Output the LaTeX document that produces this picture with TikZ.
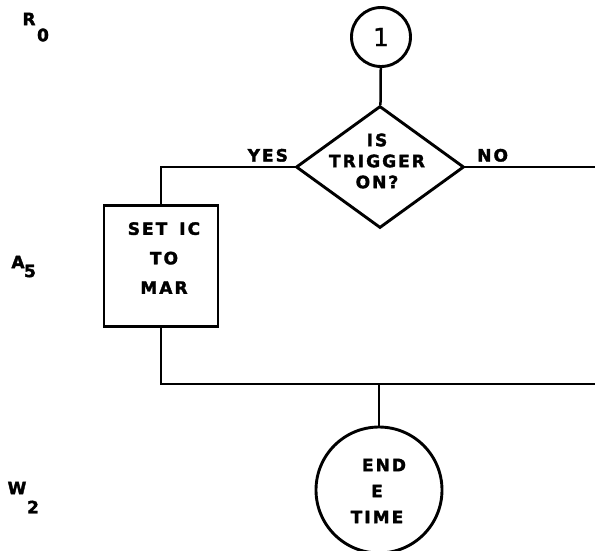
\documentclass[tikz,border=0pt]{standalone}
\usepackage{fontspec}
\newfontfamily\flowfont[LetterSpace=12,BoldFeatures={FakeBold=2}]{DejaVu Sans}
\newfontfamily\digitfont[FakeBold=1]{DejaVu Sans}
\newcommand{\flowtxt}[1]{\flowfont\bfseries\fontsize{17}{#1}\selectfont}
\usepackage{tikz}
\usetikzlibrary{shapes.geometric}
\usetikzlibrary{positioning}

\begin{document}
\begin{tikzpicture}[x=1pt,y=-1pt,line width=2.5pt,
    shp/.style={draw,line width=2.9pt,inner sep=0pt},
    txt/.style={font=\flowtxt{#1},align=center,inner sep=0pt},
    reg/.style={font=\flowtxt{17},inner sep=0pt}]%
    \useasboundingbox (0,0) rectangle (595,550);
    \begin{scope}[every node/.append style={shp}]%
    \node[circle,minimum size=59pt,font=\digitfont\fontsize{25}{25}\selectfont] (one) at (381,37) {1}; %%
    \node[diamond,minimum width=168pt,minimum height=122pt] (trig) at (380,167) {}; %%
    \node[rectangle,minimum width=114pt,minimum height=121pt] (setic) at (161,266) {}; %%
    \node[circle,minimum size=126pt] (endtime) at (379,490) {}; %%
    \end{scope}
    \node[txt=21] (trigtxt) at (377,161) {IS\\TRIGGER\\ON?}; %%
    \node[txt=29.5] (setictxt) at (164,258) {SET\hspace{12pt}IC\\TO\\MAR}; %%
    \node[txt=26] (endtxt) at (377,491) {\hspace*{14pt}END\\E\\TIME}; %%
    % register marks down the left side
    \node[reg] (regr) at (29,19) {R}; \node[reg] (regrsub) at (43,35) {0}; %%
    \node[reg] (rega) at (18,262) {A}; \node[reg] (regasub) at (30,271) {5}; %%
    \node[reg] (regw) at (17,488) {W}; \node[reg] (regwsub) at (33,507) {2}; %%
    \coordinate (noend) at (595,167); %%
    \coordinate (joinend) at (595,384); %%
    \coordinate (join) at (endtime |- joinend); %%
    \draw (one) -- (trig); %%
    \draw (trig.west) -| (setic.north) node[pos=0.1,above=4pt,reg] (yeslbl) {YES}; %%
    \draw (trig.east) -- (noend) node[pos=0.21,above=4pt,reg] (nolbl) {NO}; %%
    \draw (setic.south) |- (joinend); %%
    \draw (endtime) -- (join); %%
\end{tikzpicture}
\end{document}
